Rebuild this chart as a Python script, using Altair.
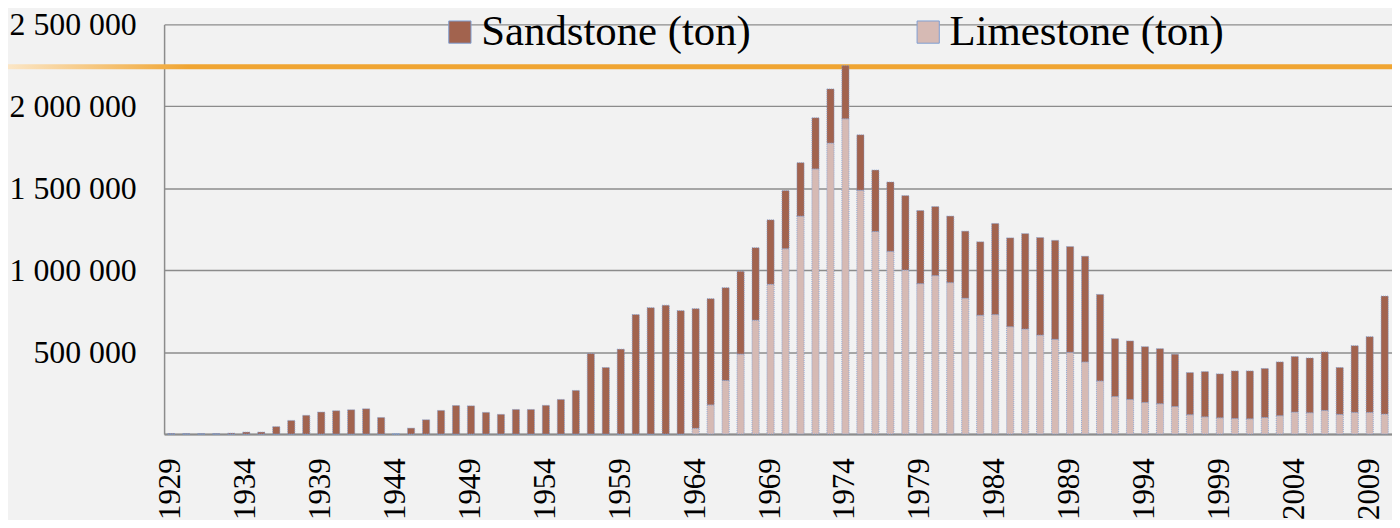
import altair as alt
import pandas as pd

years = list(range(1929, 2011))

sandstone = [
    3000, 2000, 2000, 2000, 5000, 12000, 12000, 45000, 83000, 114000,      # 1929-1938
    134000, 142000, 148000, 154000, 101000, 0, 36000, 87000, 144000, 174000,  # 1939-1948
    172000, 132000, 120000, 150000, 150000, 175000, 211000, 266000, 491000, 406000,  # 1949-1958
    518000, 729000, 771000, 786000, 753000, 730000, 648000, 566000, 505000, 442000,  # 1959-1968
    393000, 355000, 326000, 312000, 330000, 324000, 338000, 375000, 423000, 454000,  # 1969-1978
    446000, 421000, 406000, 409000, 448000, 556000, 542000, 582000, 595000, 604000,  # 1979-1988
    645000, 645000, 528000, 353000, 357000, 340000, 336000, 319000, 257000, 276000,  # 1989-1998
    268000, 290000, 292000, 299000, 328000, 339000, 334000, 357000, 286000, 407000,  # 1999-2008
    462000, 720000,  # 2009-2010
]

limestone = [
    0, 0, 0, 0, 0, 0, 0, 0, 0, 0,            # 1929-1938
    0, 0, 0, 0, 0, 0, 0, 0, 0, 0,            # 1939-1948
    0, 0, 0, 0, 0, 0, 0, 0, 0, 0,            # 1949-1958
    0, 0, 0, 0, 0, 35000, 178000, 327000, 488000, 695000,  # 1959-1968
    914000, 1131000, 1330000, 1618000, 1776000, 1924000, 1488000, 1236000, 1115000, 1001000,  # 1969-1978
    918000, 967000, 924000, 829000, 725000, 729000, 655000, 641000, 604000, 578000,  # 1979-1988
    499000, 440000, 324000, 229000, 211000, 193000, 185000, 168000, 118000, 105000,  # 1989-1998
    99000, 95000, 93000, 101000, 112000, 134000, 130000, 144000, 120000, 132000,  # 1999-2008
    132000, 122000,  # 2009-2010
]

series_names = ["Sandstone (ton)", "Limestone (ton)"]
series_colors = ["#A2634E", "#D6BAB4"]
x_tick_years = list(range(1929, 2011, 5))
y_ticks = [0, 500000, 1000000, 1500000, 2000000, 2500000]

rows = []
for y, s, l in zip(years, sandstone, limestone):
    rows.append({"year": y, "type": series_names[1], "value": l, "o": 0})
    rows.append({"year": y, "type": series_names[0], "value": s, "o": 1})
df = pd.DataFrame(rows)

FONT = "Liberation Serif"
W = 1235
H = 412

bars = alt.Chart(df).mark_bar(
    stroke="#7F9ED2", strokeWidth=0.8, strokeDash=[1, 1]
).encode(
    x=alt.X("year:O",
            scale=alt.Scale(paddingInner=0.52, paddingOuter=0.25),
            axis=alt.Axis(title=None, values=x_tick_years, labelAngle=270,
                          labelAlign="right", labelBaseline="middle",
                          labelFont=FONT, labelFontSize=31, labelColor="black",
                          labelPadding=24, ticks=False, tickSize=0,
                          domainColor="#8C8C8C", domainWidth=2, grid=False)),
    y=alt.Y("value:Q", stack="zero",
            scale=alt.Scale(domain=[0, 2500000], nice=False),
            axis=alt.Axis(title=None, values=y_ticks,
                          labelExpr="datum.value == 0 ? '' : replace(replace(format(datum.value, ','), ',', ' '), ',', ' ')",
                          labelFont=FONT, labelFontSize=32, labelColor="black",
                          labelPadding=28, ticks=False, tickSize=0,
                          domainColor="#8C8C8C", domainWidth=1.5,
                          grid=True, gridColor="#8C8C8C", gridWidth=1.4)),
    color=alt.Color("type:N",
                    scale=alt.Scale(domain=series_names, range=series_colors),
                    legend=alt.Legend(title=None, orient="none", direction="horizontal",
                                      legendX=276, legendY=-14,
                                      symbolType="square", symbolSize=500,
                                      symbolStrokeColor="#7F9ED2", symbolStrokeWidth=1,
                                      labelFont=FONT, labelFontSize=43, labelColor="black",
                                      labelOffset=0, labelLimit=600, columnPadding=156)),
    order=alt.Order("o:Q", sort="ascending"),
)

orange = alt.Chart(pd.DataFrame({"a": [0]})).mark_rect(
    color=alt.LinearGradient(
        gradient="linear",
        stops=[alt.GradientStop(color="#FBE6C6", offset=0),
               alt.GradientStop(color="#F0A532", offset=0.13),
               alt.GradientStop(color="#F0A532", offset=1)],
        x1=0, x2=1, y1=0, y2=0),
).encode(
    x=alt.value(-157), x2=alt.value(W), y=alt.value(40), y2=alt.value(45)
)

chart = alt.layer(orange, bars).properties(
    width=W, height=H,
    background="#F2F2F2",
    padding={"left": 157, "top": 15, "right": 0, "bottom": 85},
    autosize=alt.AutoSizeParams(type="none"),
).configure_view(stroke=None, fill="#F2F2F2")

chart.save("out.html", embed_options={"renderer": "svg", "actions": False})
